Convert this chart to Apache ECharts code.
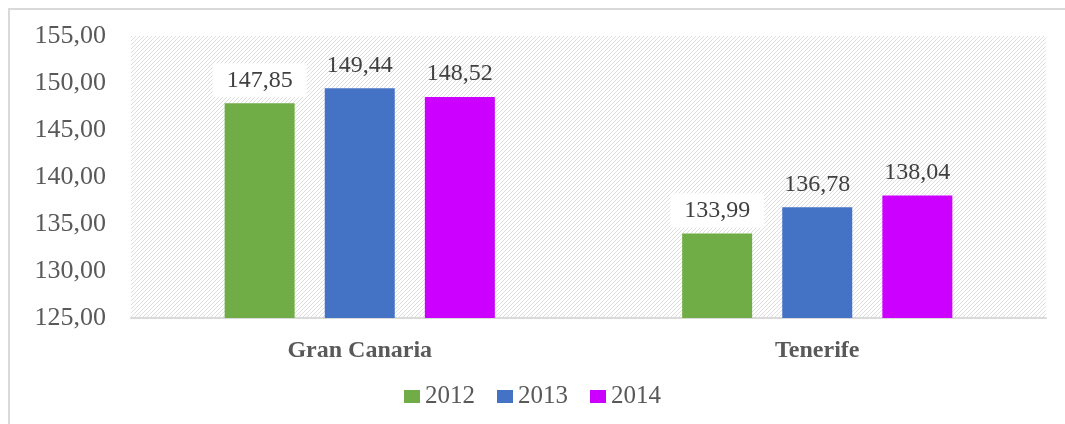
<!DOCTYPE html>
<html><head><meta charset="utf-8">
<script src="https://cdn.jsdelivr.net/npm/echarts@6/dist/echarts.min.js"></script>
<style>html,body{margin:0;padding:0;background:#fff;}#c{width:1065px;height:424px;}</style>
</head><body><div id="c"></div>
<script>
var categories = ['Gran Canaria', 'Tenerife'];
var seriesNames = ['2012', '2013', '2014'];
var values2012 = [147.85, 133.99];
var values2013 = [149.44, 136.78];
var values2014 = [148.52, 138.04];
var yMin = 125, yMax = 155, yStep = 5;
var colors = ['#70ad47', '#4472c4', '#cc00ff'];

var pc = document.createElement('canvas');
pc.width = 4; pc.height = 4;
var g = pc.getContext('2d');
g.fillStyle = '#ffffff'; g.fillRect(0, 0, 4, 4);
g.fillStyle = '#dedede';
for (var i = 0; i < 4; i++) { g.fillRect(i, 3 - i, 1, 1); }

var font = 'Liberation Serif';
function fmt(v){ return v.toFixed(2).replace('.', ','); }
var data = [values2012, values2013, values2014];
var chart = echarts.init(document.getElementById('c'));
chart.setOption({
  animation: false,
  color: colors,
  graphic: [{type:'rect', shape:{x:9, y:9, width:1200, height:600}, style:{fill:'none', stroke:'#d9d9d9', lineWidth:2}, z:-10}],
  grid: {left:131, right:19, top:36, bottom:106, show:true, borderWidth:0, backgroundColor:{image:pc, repeat:'repeat'}},
  legend: {bottom: 10, left:'center', itemWidth:16, itemHeight:13, itemGap:22, icon:'rect',
    textStyle:{fontFamily:font, fontSize:25, color:'#595959', padding:[0,0,0,0]}},
  xAxis: {type:'category', data:categories, axisTick:{show:false},
    axisLine:{lineStyle:{color:'#d9d9d9', width:2}},
    axisLabel:{fontFamily:font, fontSize:24, fontWeight:'bold', color:'#595959', margin:21}},
  yAxis: {type:'value', min:yMin, max:yMax, interval:yStep, splitLine:{show:false}, axisLine:{show:false}, axisTick:{show:false},
    axisLabel:{fontFamily:font, fontSize:26, color:'#595959', margin:25, formatter:function(v){return fmt(v);}}},
  series: seriesNames.map(function(n, i){
    return {name:n, type:'bar', data:data[i], barWidth:70, barGap:'43%',
      label:{show:true, position:'top', distance:6, formatter:function(p){return fmt(p.value);},
        fontFamily:font, fontSize:24, color:'#404040', backgroundColor: i === 0 ? '#ffffff' : 'transparent', padding:[5,14]}};
  })
});
</script></body></html>
